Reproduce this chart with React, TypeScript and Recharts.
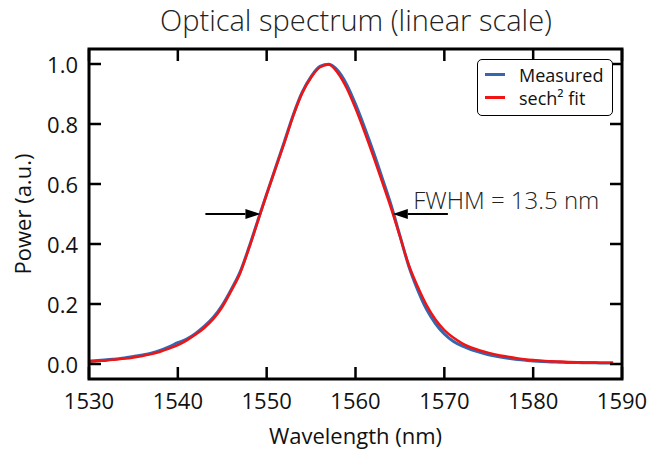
import React from 'react';
import { LineChart, Line, XAxis, YAxis, Legend, ReferenceLine, ReferenceDot } from 'recharts';

const wavelengths = [
  1530, 1531, 1532, 1533, 1534, 1535, 1536, 1537, 1538, 1539,
  1540, 1541, 1542, 1543, 1544, 1545, 1546, 1547, 1548, 1549,
  1550, 1551, 1552, 1553, 1554, 1555, 1556, 1557, 1558, 1559,
  1560, 1561, 1562, 1563, 1564, 1565, 1566, 1567, 1568, 1569,
  1570, 1571, 1572, 1573, 1574, 1575, 1576, 1577, 1578, 1579,
  1580, 1581, 1582, 1583, 1584, 1585, 1586, 1587, 1588, 1589,
];

const measured = [
  0.010, 0.012, 0.014, 0.017, 0.020, 0.025, 0.030, 0.036, 0.045, 0.057,
  0.071, 0.083, 0.102, 0.126, 0.156, 0.196, 0.248, 0.306, 0.388, 0.478,
  0.567, 0.654, 0.742, 0.831, 0.906, 0.958, 0.992, 0.999, 0.978, 0.932,
  0.866, 0.790, 0.708, 0.620, 0.530, 0.428, 0.326, 0.247, 0.182, 0.135,
  0.100, 0.076, 0.060, 0.048, 0.039, 0.031, 0.025, 0.020, 0.016, 0.013,
  0.010, 0.008, 0.007, 0.006, 0.005, 0.005, 0.004, 0.004, 0.003, 0.003,
];

const sechFit = [
  0.008, 0.010, 0.012, 0.015, 0.018, 0.022, 0.027, 0.033, 0.041, 0.051,
  0.063, 0.079, 0.098, 0.121, 0.150, 0.190, 0.243, 0.302, 0.385, 0.475,
  0.565, 0.652, 0.738, 0.828, 0.903, 0.955, 0.989, 0.998, 0.970, 0.920,
  0.852, 0.775, 0.693, 0.607, 0.520, 0.425, 0.330, 0.258, 0.196, 0.148,
  0.113, 0.088, 0.069, 0.055, 0.045, 0.037, 0.030, 0.025, 0.020, 0.016,
  0.013, 0.011, 0.009, 0.008, 0.007, 0.006, 0.005, 0.005, 0.004, 0.004,
];

const xTicks = [1530, 1540, 1550, 1560, 1570, 1580, 1590];
const yTicks = [0, 0.2, 0.4, 0.6, 0.8, 1.0];

const X_MIN = 1530;
const X_MAX = 1590;
const Y_MIN = -0.05;
const Y_MAX = 1.05;

const data = wavelengths.map((wl, i) => ({ wl, measured: measured[i], fit: sechFit[i] }));

const W = 651;
const H = 450;
const M = { top: 49, right: 29, left: 89, bottom: 71 };
const FONT = '"Open Sans", "DejaVu Sans", sans-serif';

const BottomTick = (props: any) => {
  const { x, y, payload } = props;
  return (
    <text x={x} y={y + 13} textAnchor="middle" dominantBaseline="central" fontFamily={FONT} fontSize={22} fill="#111">
      {payload.value}
    </text>
  );
};

const LeftTick = (props: any) => {
  const { x, y, payload } = props;
  return (
    <text x={x - 3} y={y} textAnchor="end" dominantBaseline="central" fontFamily={FONT} fontSize={22} fill="#111">
      {Number(payload.value).toFixed(1)}
    </text>
  );
};

const Arrow = (props: any) => {
  const { x1, y1, x2, y2 } = props;
  const dir = Math.sign(x2 - x1);
  const bx = x2 - dir * 15;
  return (
    <g>
      <line x1={x1} y1={y1} x2={bx} y2={y2} stroke="#000" strokeWidth={2} />
      <polygon points={`${x2},${y2} ${bx},${y2 - 5} ${bx},${y2 + 5}`} fill="#000" />
    </g>
  );
};

const FwhmText = (props: any) => (
  <text x={props.cx} y={props.cy} dominantBaseline="central" fontFamily={FONT} fontWeight={300} fontSize={24} fill="#222">
    FWHM = 13.5 nm
  </text>
);

const LegendBox = (props: any) => (
  <div
    style={{
      border: '1.5px solid #000',
      borderRadius: 5,
      background: '#fff',
      width: 136,
      height: 57,
      boxSizing: 'border-box',
      padding: '3px 0 0 7px',
      fontFamily: FONT,
      fontSize: 18,
      color: '#111',
    }}
  >
    {(props.payload || []).map((p: any) => (
      <div key={p.value} style={{ display: 'flex', alignItems: 'center', height: 23 }}>
        <span style={{ display: 'inline-block', width: 20, height: 2.5, background: p.color, marginRight: 14 }} />
        <span>{p.value}</span>
      </div>
    ))}
  </div>
);

// box frame with inward ticks on all four sides
const Frame = () => {
  const pw = W - M.left - M.right;
  const ph = H - M.top - M.bottom;
  const sx = (v: number) => M.left + ((v - X_MIN) / (X_MAX - X_MIN)) * pw;
  const sy = (v: number) => M.top + ((Y_MAX - v) / (Y_MAX - Y_MIN)) * ph;
  const len = 12;
  const tw = 2.5;
  const bottom = M.top + ph;
  const right = M.left + pw;
  return (
    <svg width={W} height={H} style={{ position: 'absolute', left: 0, top: 0, pointerEvents: 'none' }}>
      <rect x={M.left} y={M.top} width={pw} height={ph} fill="none" stroke="#000" strokeWidth={3} />
      {xTicks.map((t) => (
        <g key={`x${t}`} fill="#000">
          <rect x={sx(t) - tw / 2} y={bottom - len} width={tw} height={len} />
          <rect x={sx(t) - tw / 2} y={M.top} width={tw} height={len} />
        </g>
      ))}
      {yTicks.map((t) => (
        <g key={`y${t}`} fill="#000">
          <rect x={M.left} y={sy(t) - tw / 2} width={len} height={tw} />
          <rect x={right - len} y={sy(t) - tw / 2} width={len} height={tw} />
        </g>
      ))}
    </svg>
  );
};

export default function App() {
  return (
    <div style={{ position: 'absolute', left: 0, top: 0, width: W, height: H, background: '#fff' }}>
      <div
        style={{
          position: 'absolute', top: 2, left: 56, width: 600, textAlign: 'center',
          fontFamily: FONT, fontWeight: 300, fontSize: 29, lineHeight: '36px', color: '#222',
        }}
      >
        Optical spectrum (linear scale)
      </div>
      <div
        style={{
          position: 'absolute', left: 22, top: 214, transform: 'translate(-50%, -50%) rotate(-90deg)',
          whiteSpace: 'nowrap', fontFamily: FONT, fontSize: 22, lineHeight: '26px', color: '#111',
        }}
      >
        Power (a.u.)
      </div>
      <LineChart width={W} height={H} data={data} margin={{ top: M.top, right: M.right, left: 0, bottom: 0 }}>
        <XAxis
          dataKey="wl"
          type="number"
          domain={[X_MIN, X_MAX]}
          ticks={xTicks}
          interval={0}
          allowDataOverflow
          height={M.bottom}
          tickLine={false}
          axisLine={false}
          tick={<BottomTick />}
          label={{ value: 'Wavelength (nm)', position: 'insideBottom', offset: 6, fontFamily: FONT, fontSize: 22, fill: '#111' }}
        />
        <YAxis
          type="number"
          domain={[Y_MIN, Y_MAX]}
          ticks={yTicks}
          interval={0}
          allowDataOverflow
          width={M.left}
          tickLine={false}
          axisLine={false}
          tick={<LeftTick />}
        />
        <Legend
          layout="horizontal"
          verticalAlign="middle"
          align="center"
          wrapperStyle={{ top: 59, left: 477, width: 136, height: 57, zIndex: 10 }}
          content={<LegendBox />}
        />
        <Line
          type="monotone"
          dataKey="measured"
          name="Measured"
          stroke="#3566b0"
          strokeWidth={3}
          dot={false}
          isAnimationActive={false}
        />
        <Line
          type="monotone"
          dataKey="fit"
          name="sech² fit"
          stroke="#f01414"
          strokeWidth={2.5}
          dot={false}
          isAnimationActive={false}
        />
        <ReferenceLine segment={[{ x: 1543.1, y: 0.5 }, { x: 1549.3, y: 0.5 }]} shape={<Arrow />} />
        <ReferenceLine segment={[{ x: 1570.4, y: 0.5 }, { x: 1564.2, y: 0.5 }]} shape={<Arrow />} />
        <ReferenceDot x={1566.5} y={0.548} r={0} shape={<FwhmText />} />
      </LineChart>
      <Frame />
    </div>
  );
}
